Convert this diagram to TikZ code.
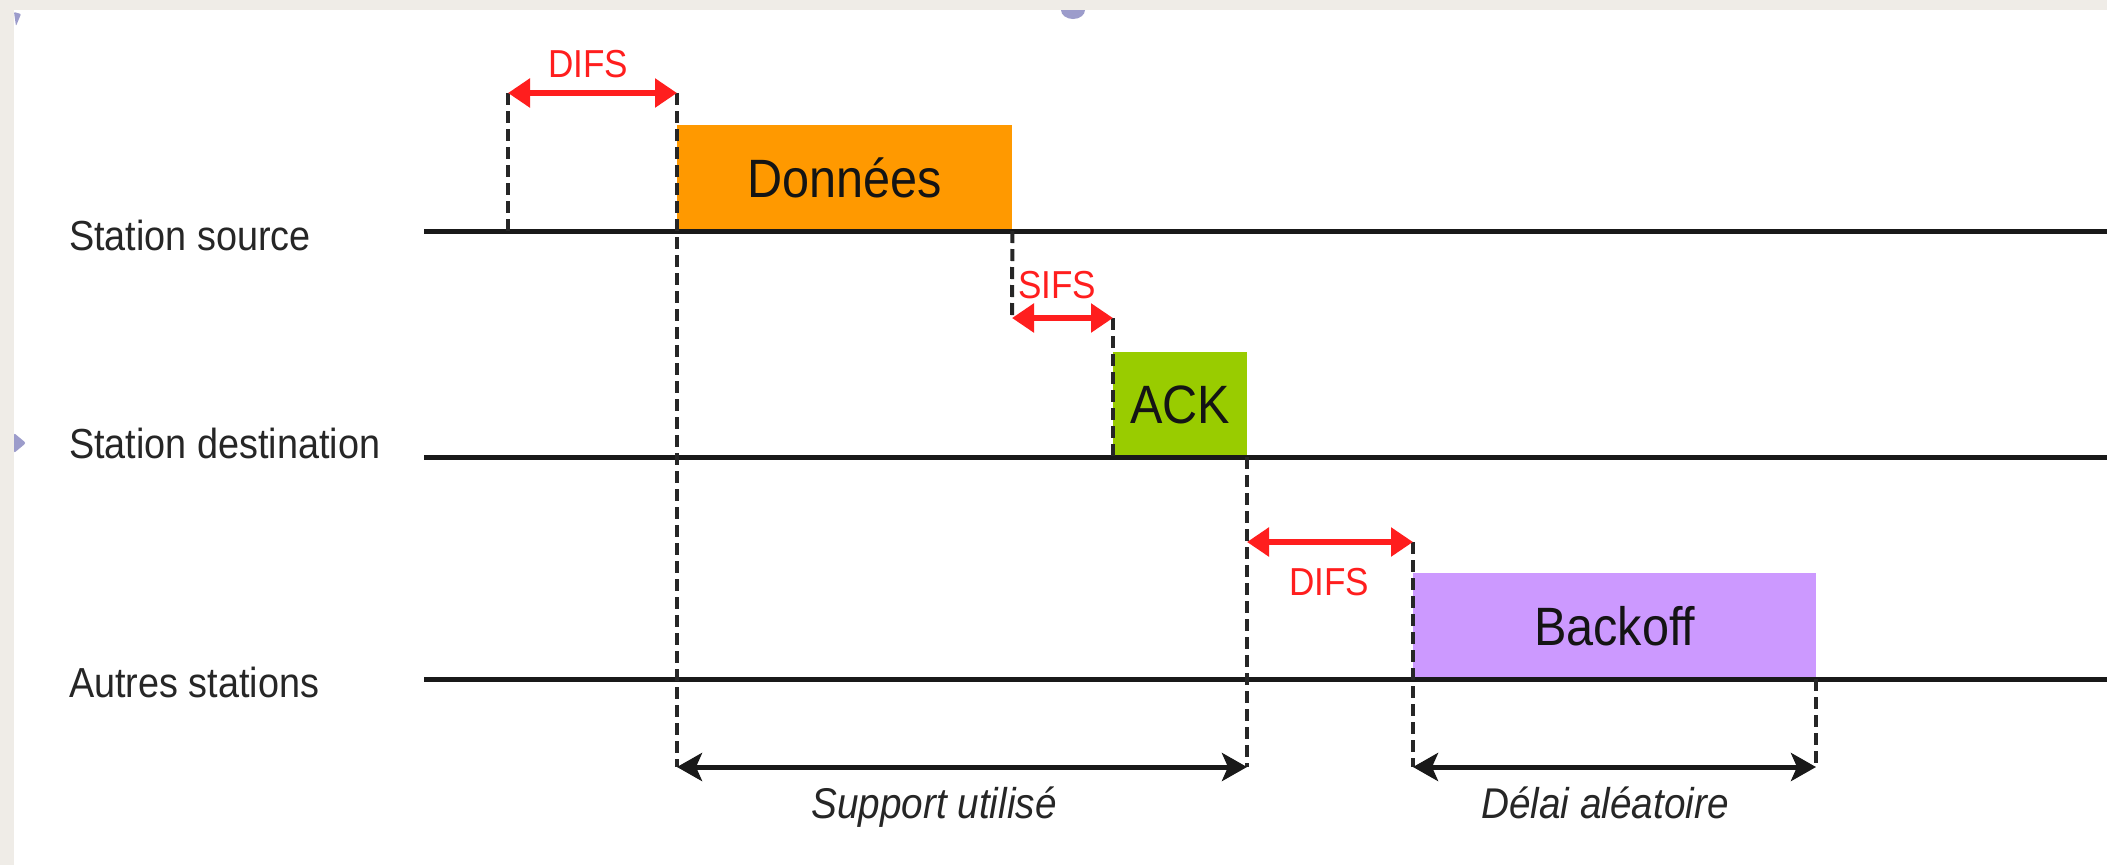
\documentclass[tikz,border=0pt]{standalone}
\usepackage{fontspec}
\setmainfont{Liberation Sans}[FakeStretch=0.9]
\usetikzlibrary{arrows.meta}

\definecolor{pagegray}{HTML}{EFECE7}
\definecolor{bulletblue}{HTML}{9C9CCB}
\definecolor{donneesfill}{HTML}{FF9900}
\definecolor{ackfill}{HTML}{99CC00}
\definecolor{backofffill}{HTML}{CC99FF}
\definecolor{ifsred}{HTML}{FF1E1E}
\definecolor{labelgray}{HTML}{262626}

\tikzset{
  timeline/.style={line width=5pt, black!90},
  guide/.style={line width=4pt, black!85, dash pattern=on 12pt off 6pt},
  ifsarrow/.style={line width=5.5pt, ifsred, {Triangle[length=22pt,width=28pt]}-{Triangle[length=22pt,width=28pt]}},
  spanarrow/.style={line width=5pt, black!90, {Stealth[length=25pt,width=28pt,inset=6pt]}-{Stealth[length=25pt,width=28pt,inset=6pt]}},
  stationlabel/.style={inner sep=0pt, anchor=base west, text=labelgray, font=\fontsize{42}{50}\selectfont},
  ifslabel/.style={inner sep=0pt, anchor=base, text=ifsred, font=\fontsize{39}{46}\selectfont},
  spanlabel/.style={inner sep=0pt, anchor=base, text=labelgray, font=\fontsize{43}{52}\selectfont\itshape},
  framebox/.style={draw=none, inner sep=0pt, anchor=south west, text=black!92,
    font=\fontsize{54}{64}\selectfont, text height=38.5pt, text depth=0pt}
}

\begin{document}
\begin{tikzpicture}[x=1pt, y=-1pt]
  % page and slide margin
  \fill[pagegray] (0,0) rectangle (2107,865);
  \fill[white] (14,10) rectangle (2107,865);
  \useasboundingbox (0,0) rectangle (2107,865);
  % slide bullets peeking out of the margin
  \fill[bulletblue] (1073,10) ellipse (12 and 9);
  \fill[bulletblue, rounded corners=2pt] (14,433) -- (26,443) -- (14,453) -- cycle;
  \fill[bulletblue, rounded corners=1pt] (14,12) -- (21,14) -- (16,26) -- cycle;
  \fill[pagegray] (0,0) rectangle (2107,10);
  \fill[pagegray] (0,0) rectangle (14,865);

  % station names
  \node[stationlabel] (lsrc) at (69,250) {Station source};
  \node[stationlabel] (ldst) at (69,458) {Station destination};
  \node[stationlabel] (loth) at (69,697) {Autres stations};

  % time lines
  \coordinate (src0) at (424,231);  \coordinate (src1) at (2107,231);
  \coordinate (dst0) at (424,457);  \coordinate (dst1) at (2107,457);
  \coordinate (oth0) at (424,679);  \coordinate (oth1) at (2107,679);

  % frames
  \node[framebox, fill=donneesfill, minimum width=335pt, minimum height=106pt] (data) at (677,231) {Données};
  \node[framebox, fill=ackfill, minimum width=134pt, minimum height=105pt] (ack) at (1113,457) {ACK};
  \node[framebox, fill=backofffill, minimum width=403pt, minimum height=106pt] (backoff) at (1413,679) {Backoff};

  \draw[timeline] (src0) -- (src1);
  \draw[timeline] (dst0) -- (dst1);
  \draw[timeline] (oth0) -- (oth1);

  % instants
  \coordinate (difsA) at (508,93);
  \coordinate (difsAb) at (508,231);
  \coordinate (difsB) at (677,93);
  \coordinate (spanA) at (677,767);
  \coordinate (sifsA) at (1012,318);
  \coordinate (sifsB) at (1113,318);
  \coordinate (ackEnd) at (1247,457);
  \coordinate (spanB) at (1247,767);
  \coordinate (difsC) at (1247,542);
  \coordinate (difsD) at (1413,542);
  \coordinate (spanC) at (1413,767);
  \coordinate (boEnd) at (1816,679);
  \coordinate (spanD) at (1816,767);

  % dashed guides
  \draw[guide] (difsA) -- (difsAb);
  \draw[guide] (difsB) -- (spanA);
  \draw[guide] (data.south east) -- (sifsA);
  \draw[guide] (sifsB) -- (ack.south west);
  \draw[guide] (ackEnd) -- (spanB);
  \draw[guide] (difsD) -- (spanC);
  \draw[guide] (boEnd) -- (spanD);

  % inter-frame spaces
  \draw[ifsarrow] (difsA) -- (difsB);
  \node[ifslabel] (tdifs1) at (588,77) {DIFS};
  \draw[ifsarrow] (sifsA) -- (sifsB);
  \node[ifslabel] (tsifs) at (1057,298) {SIFS};
  \draw[ifsarrow] (difsC) -- (difsD);
  \node[ifslabel] (tdifs2) at (1329,595) {DIFS};

  % durations
  \draw[spanarrow] (spanA) -- (spanB);
  \node[spanlabel] (tsupport) at (934,818) {Support utilisé};
  \draw[spanarrow] (spanC) -- (spanD);
  \node[spanlabel] (tdelai) at (1605,818) {Délai aléatoire};
\end{tikzpicture}
\end{document}
